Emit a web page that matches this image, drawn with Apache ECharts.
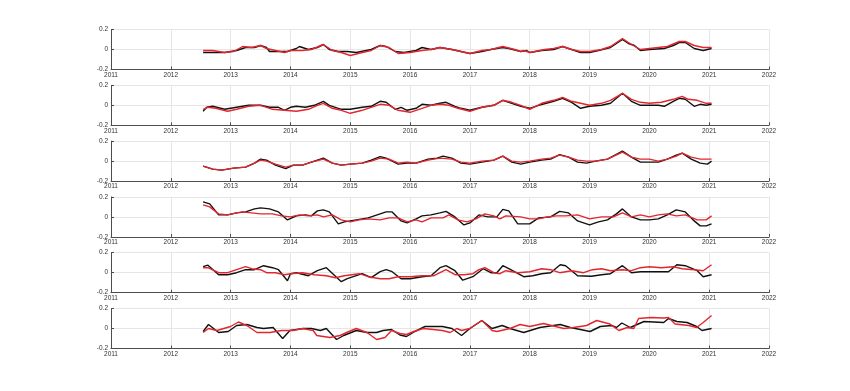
<!DOCTYPE html>
<html><head><meta charset="utf-8">
<script src="https://cdn.jsdelivr.net/npm/echarts@6/dist/echarts.min.js"></script>
<style>html,body{margin:0;padding:0;background:#fff;}#c{width:850px;height:391px;}</style>
</head><body><div id="c"></div>
<script>
const xTicks = [2011,2012,2013,2014,2015,2016,2017,2018,2019,2020,2021,2022];
const yTicks = [-0.2,0,0.2];

const p1Black = [[2012.54,-0.03],[2012.9,-0.03],[2013.1,-0.01],[2013.25,0.02],[2013.4,0.02],[2013.5,0.04],[2013.6,0.02],[2013.65,-0.02],[2013.8,-0.02],[2013.95,-0.02],[2014.1,0.01],[2014.15,0.03],[2014.3,0.0],[2014.45,0.02],[2014.55,0.05],[2014.65,0.0],[2014.8,-0.02],[2014.95,-0.02],[2015.1,-0.03],[2015.35,0.0],[2015.5,0.04],[2015.6,0.03],[2015.75,-0.02],[2015.9,-0.03],[2016.1,-0.01],[2016.2,0.02],[2016.35,0.0],[2016.5,0.02],[2016.7,0.0],[2016.85,-0.02],[2017.0,-0.04],[2017.2,-0.02],[2017.35,0.0],[2017.55,0.02],[2017.65,0.01],[2017.85,-0.02],[2017.95,-0.01],[2018.0,-0.03],[2018.2,-0.01],[2018.4,0.0],[2018.55,0.03],[2018.7,0.0],[2018.85,-0.03],[2019.0,-0.03],[2019.15,-0.01],[2019.35,0.02],[2019.55,0.10],[2019.65,0.06],[2019.75,0.04],[2019.85,-0.01],[2020.0,0.0],[2020.25,0.01],[2020.4,0.04],[2020.5,0.07],[2020.6,0.07],[2020.75,0.01],[2020.9,-0.01],[2021.04,0.01]];
const p1Red = [[2012.54,-0.01],[2012.7,-0.01],[2012.9,-0.03],[2013.05,-0.02],[2013.2,0.03],[2013.35,0.02],[2013.5,0.04],[2013.6,0.01],[2013.75,-0.01],[2013.9,-0.03],[2014.0,-0.01],[2014.2,-0.01],[2014.35,0.0],[2014.55,0.05],[2014.7,-0.01],[2014.85,-0.03],[2015.0,-0.06],[2015.2,-0.03],[2015.35,-0.01],[2015.5,0.04],[2015.65,0.02],[2015.8,-0.04],[2016.0,-0.03],[2016.2,-0.01],[2016.35,0.0],[2016.5,0.02],[2016.7,0.0],[2016.85,-0.02],[2017.0,-0.04],[2017.2,-0.01],[2017.35,0.0],[2017.55,0.03],[2017.75,0.0],[2017.85,-0.02],[2017.9,-0.01],[2018.0,-0.03],[2018.25,0.0],[2018.4,0.01],[2018.55,0.03],[2018.7,0.0],[2018.85,-0.02],[2019.0,-0.02],[2019.2,0.0],[2019.35,0.03],[2019.55,0.11],[2019.7,0.05],[2019.85,0.0],[2020.0,0.01],[2020.3,0.03],[2020.5,0.08],[2020.6,0.08],[2020.75,0.04],[2020.9,0.02],[2021.04,0.02]];

const p2Black = [[2012.54,-0.06],[2012.6,-0.02],[2012.7,-0.01],[2012.9,-0.04],[2013.1,-0.02],[2013.3,0.0],[2013.5,0.0],[2013.65,-0.02],[2013.8,-0.02],[2013.9,-0.05],[2014.0,-0.02],[2014.1,-0.01],[2014.25,-0.02],[2014.4,0.0],[2014.55,0.04],[2014.65,0.0],[2014.85,-0.04],[2015.0,-0.04],[2015.2,-0.02],[2015.35,-0.01],[2015.5,0.04],[2015.6,0.03],[2015.75,-0.04],[2015.85,-0.02],[2015.95,-0.05],[2016.1,-0.03],[2016.2,0.01],[2016.35,0.0],[2016.5,0.02],[2016.6,0.03],[2016.75,-0.01],[2016.85,-0.03],[2017.0,-0.05],[2017.2,-0.02],[2017.4,0.0],[2017.55,0.05],[2017.7,0.02],[2017.85,-0.01],[2018.0,-0.03],[2018.15,0.0],[2018.4,0.04],[2018.55,0.07],[2018.7,0.03],[2018.85,-0.03],[2019.0,-0.01],[2019.2,0.0],[2019.35,0.02],[2019.55,0.12],[2019.7,0.04],[2019.85,0.0],[2020.0,0.0],[2020.15,0.0],[2020.25,-0.01],[2020.4,0.04],[2020.5,0.07],[2020.6,0.06],[2020.75,-0.01],[2020.85,0.01],[2020.95,0.0],[2021.04,0.01]];
const p2Red = [[2012.54,-0.04],[2012.62,-0.02],[2012.75,-0.03],[2012.95,-0.06],[2013.1,-0.04],[2013.3,-0.01],[2013.5,0.0],[2013.7,-0.04],[2013.9,-0.05],[2014.1,-0.06],[2014.3,-0.04],[2014.45,0.0],[2014.55,0.02],[2014.7,-0.03],[2014.85,-0.05],[2015.0,-0.08],[2015.2,-0.05],[2015.35,-0.02],[2015.5,0.01],[2015.65,0.0],[2015.8,-0.05],[2016.0,-0.07],[2016.2,-0.03],[2016.35,0.0],[2016.5,0.01],[2016.65,0.0],[2016.8,-0.03],[2017.0,-0.06],[2017.2,-0.02],[2017.4,0.0],[2017.55,0.05],[2017.7,0.03],[2017.85,0.0],[2018.0,-0.04],[2018.2,0.02],[2018.4,0.05],[2018.55,0.08],[2018.7,0.04],[2018.85,0.02],[2019.0,0.0],[2019.2,0.02],[2019.35,0.05],[2019.55,0.12],[2019.7,0.06],[2019.85,0.03],[2020.0,0.02],[2020.2,0.03],[2020.4,0.06],[2020.55,0.09],[2020.65,0.06],[2020.8,0.05],[2020.95,0.02],[2021.04,0.02]];

const p3Black = [[2012.54,-0.05],[2012.7,-0.08],[2012.85,-0.09],[2013.05,-0.07],[2013.25,-0.06],[2013.4,-0.02],[2013.5,0.02],[2013.6,0.01],[2013.75,-0.04],[2013.92,-0.075],[2014.05,-0.04],[2014.2,-0.04],[2014.35,-0.01],[2014.55,0.03],[2014.7,-0.02],[2014.85,-0.04],[2015.0,-0.03],[2015.2,-0.02],[2015.35,0.01],[2015.5,0.045],[2015.6,0.03],[2015.8,-0.03],[2015.95,-0.02],[2016.1,-0.02],[2016.3,0.02],[2016.45,0.03],[2016.55,0.05],[2016.7,0.03],[2016.85,-0.02],[2017.0,-0.03],[2017.2,-0.01],[2017.4,0.01],[2017.55,0.05],[2017.7,-0.01],[2017.85,-0.03],[2018.0,-0.01],[2018.2,0.01],[2018.35,0.02],[2018.5,0.065],[2018.65,0.04],[2018.8,-0.01],[2018.95,-0.02],[2019.1,0.0],[2019.3,0.02],[2019.55,0.10],[2019.7,0.04],[2019.85,-0.01],[2020.0,-0.01],[2020.15,-0.01],[2020.3,0.02],[2020.45,0.06],[2020.55,0.08],[2020.7,0.02],[2020.85,-0.02],[2020.97,-0.03],[2021.04,0.0]];
const p3Red = [[2012.54,-0.05],[2012.7,-0.08],[2012.85,-0.09],[2013.05,-0.07],[2013.25,-0.06],[2013.4,-0.02],[2013.5,0.01],[2013.6,0.0],[2013.75,-0.03],[2013.92,-0.06],[2014.05,-0.04],[2014.2,-0.04],[2014.35,-0.01],[2014.55,0.02],[2014.7,-0.02],[2014.85,-0.04],[2015.0,-0.03],[2015.2,-0.02],[2015.35,0.0],[2015.5,0.03],[2015.65,0.02],[2015.8,-0.02],[2015.95,-0.01],[2016.1,-0.02],[2016.3,0.01],[2016.5,0.03],[2016.7,0.02],[2016.85,-0.01],[2017.0,-0.02],[2017.2,0.0],[2017.4,0.01],[2017.55,0.05],[2017.7,0.0],[2017.85,-0.01],[2018.0,0.0],[2018.2,0.02],[2018.35,0.03],[2018.5,0.06],[2018.65,0.04],[2018.8,0.01],[2018.95,0.0],[2019.1,0.0],[2019.3,0.02],[2019.55,0.09],[2019.7,0.04],[2019.85,0.02],[2020.0,0.02],[2020.15,0.0],[2020.3,0.02],[2020.45,0.05],[2020.55,0.08],[2020.7,0.04],[2020.85,0.02],[2021.0,0.02],[2021.04,0.02]];

const p4Black = [[2012.54,0.15],[2012.65,0.13],[2012.8,0.02],[2012.95,0.02],[2013.1,0.04],[2013.25,0.05],[2013.4,0.08],[2013.5,0.09],[2013.65,0.08],[2013.8,0.05],[2013.95,-0.03],[2014.1,0.01],[2014.25,0.02],[2014.35,0.01],[2014.45,0.06],[2014.55,0.07],[2014.65,0.05],[2014.8,-0.07],[2014.9,-0.05],[2015.1,-0.03],[2015.3,-0.01],[2015.45,0.02],[2015.6,0.05],[2015.7,0.05],[2015.85,-0.04],[2015.95,-0.06],[2016.1,-0.02],[2016.2,0.01],[2016.35,0.02],[2016.5,0.04],[2016.6,0.055],[2016.75,0.0],[2016.9,-0.08],[2017.0,-0.06],[2017.15,0.02],[2017.3,0.0],[2017.45,0.0],[2017.55,0.075],[2017.65,0.06],[2017.8,-0.07],[2018.0,-0.07],[2018.15,-0.01],[2018.35,0.0],[2018.5,0.055],[2018.65,0.04],[2018.8,-0.04],[2019.0,-0.08],[2019.15,-0.05],[2019.3,-0.03],[2019.45,0.03],[2019.55,0.08],[2019.7,0.0],[2019.85,-0.03],[2020.0,-0.03],[2020.15,-0.02],[2020.3,0.02],[2020.45,0.07],[2020.6,0.05],[2020.75,-0.04],[2020.85,-0.09],[2020.95,-0.09],[2021.04,-0.07]];
const p4Red = [[2012.54,0.12],[2012.65,0.10],[2012.8,0.03],[2012.95,0.02],[2013.1,0.04],[2013.2,0.05],[2013.35,0.04],[2013.5,0.03],[2013.7,0.03],[2013.85,0.01],[2014.0,0.0],[2014.15,0.02],[2014.3,0.01],[2014.45,0.02],[2014.55,0.0],[2014.7,0.02],[2014.85,-0.03],[2015.0,-0.05],[2015.15,-0.03],[2015.3,-0.02],[2015.5,-0.03],[2015.65,-0.01],[2015.8,-0.01],[2015.95,-0.05],[2016.1,-0.03],[2016.2,-0.05],[2016.35,-0.01],[2016.55,-0.01],[2016.65,0.02],[2016.8,-0.03],[2016.95,-0.05],[2017.1,-0.02],[2017.25,0.03],[2017.4,0.01],[2017.5,-0.02],[2017.6,0.01],[2017.85,0.0],[2018.0,-0.02],[2018.15,-0.02],[2018.3,0.0],[2018.45,0.01],[2018.6,0.01],[2018.8,0.02],[2019.0,-0.02],[2019.2,0.0],[2019.4,0.0],[2019.55,0.04],[2019.7,0.0],[2019.85,0.02],[2020.0,0.0],[2020.15,0.02],[2020.3,0.03],[2020.45,0.01],[2020.6,0.02],[2020.8,-0.03],[2020.95,-0.03],[2021.04,0.01]];

const p5Black = [[2012.54,0.06],[2012.62,0.075],[2012.8,-0.02],[2012.95,-0.02],[2013.1,0.0],[2013.25,0.03],[2013.4,0.03],[2013.55,0.07],[2013.7,0.05],[2013.8,0.03],[2013.95,-0.08],[2014.0,-0.01],[2014.1,0.0],[2014.3,-0.03],[2014.45,0.02],[2014.6,0.05],[2014.85,-0.09],[2014.95,-0.06],[2015.1,-0.03],[2015.2,-0.01],[2015.35,-0.05],[2015.5,0.01],[2015.6,0.03],[2015.7,0.01],[2015.85,-0.06],[2016.0,-0.06],[2016.2,-0.04],[2016.35,-0.03],[2016.5,0.05],[2016.6,0.07],[2016.75,0.02],[2016.88,-0.075],[2017.05,-0.04],[2017.22,0.04],[2017.35,0.0],[2017.45,0.0],[2017.55,0.07],[2017.65,0.04],[2017.9,-0.04],[2018.05,-0.03],[2018.2,-0.01],[2018.35,0.0],[2018.51,0.08],[2018.6,0.07],[2018.8,-0.03],[2019.03,-0.035],[2019.2,-0.02],[2019.35,-0.01],[2019.45,0.03],[2019.55,0.07],[2019.7,0.0],[2019.85,0.01],[2020.0,0.01],[2020.24,0.01],[2020.32,0.01],[2020.46,0.08],[2020.6,0.07],[2020.8,0.02],[2020.9,-0.04],[2021.04,-0.02]];
const p5Red = [[2012.54,0.05],[2012.62,0.05],[2012.8,0.0],[2012.95,0.0],[2013.1,0.03],[2013.25,0.06],[2013.35,0.04],[2013.5,0.03],[2013.6,0.0],[2013.75,0.0],[2013.9,-0.02],[2014.0,-0.01],[2014.2,0.0],[2014.4,-0.02],[2014.6,-0.03],[2014.75,-0.05],[2014.9,-0.03],[2015.15,-0.01],[2015.3,-0.04],[2015.5,-0.06],[2015.65,-0.06],[2015.8,-0.04],[2016.0,-0.04],[2016.2,-0.03],[2016.4,-0.03],[2016.5,0.0],[2016.6,0.03],[2016.75,-0.02],[2016.9,-0.02],[2017.05,-0.01],[2017.15,0.03],[2017.25,0.05],[2017.4,0.0],[2017.5,-0.01],[2017.6,0.02],[2017.8,0.0],[2018.0,0.01],[2018.2,0.04],[2018.35,0.03],[2018.5,0.0],[2018.7,0.02],[2018.9,0.0],[2019.05,0.03],[2019.2,0.04],[2019.35,0.02],[2019.55,0.03],[2019.7,0.02],[2019.85,0.05],[2020.0,0.06],[2020.2,0.05],[2020.4,0.06],[2020.55,0.04],[2020.75,0.03],[2020.9,0.02],[2021.04,0.08]];

const p6Black = [[2012.54,-0.03],[2012.63,0.04],[2012.8,-0.04],[2012.96,-0.03],[2013.1,0.03],[2013.27,0.04],[2013.44,0.01],[2013.55,0.0],[2013.71,0.01],[2013.87,-0.10],[2013.99,-0.02],[2014.22,0.0],[2014.35,0.0],[2014.5,-0.02],[2014.6,0.0],[2014.77,-0.11],[2014.89,-0.07],[2015.1,-0.02],[2015.28,-0.04],[2015.44,-0.04],[2015.55,-0.02],[2015.69,-0.01],[2015.83,-0.065],[2015.94,-0.08],[2016.08,-0.03],[2016.25,0.02],[2016.54,0.02],[2016.7,0.0],[2016.86,-0.07],[2017.0,0.0],[2017.2,0.08],[2017.37,0.0],[2017.54,0.03],[2017.67,0.0],[2017.9,-0.04],[2018.17,0.01],[2018.51,0.04],[2018.68,0.01],[2019.01,-0.03],[2019.18,0.02],[2019.37,0.03],[2019.45,0.01],[2019.54,0.055],[2019.68,0.01],[2019.91,0.07],[2020.24,0.06],[2020.32,0.10],[2020.46,0.07],[2020.63,0.06],[2020.79,0.02],[2020.88,-0.02],[2021.04,0.0]];
const p6Red = [[2012.54,-0.04],[2012.63,0.0],[2012.77,-0.02],[2013.0,0.02],[2013.13,0.065],[2013.27,0.03],[2013.44,-0.04],[2013.66,-0.04],[2013.85,-0.02],[2014.04,-0.02],[2014.2,0.0],[2014.38,-0.02],[2014.44,-0.07],[2014.66,-0.09],[2014.83,-0.07],[2014.94,-0.04],[2015.1,0.0],[2015.28,-0.04],[2015.44,-0.11],[2015.58,-0.09],[2015.69,-0.02],[2015.83,-0.05],[2015.94,-0.06],[2016.06,-0.03],[2016.22,0.0],[2016.39,-0.01],[2016.54,-0.02],[2016.67,-0.04],[2016.78,0.0],[2016.86,-0.02],[2017.0,0.0],[2017.2,0.08],[2017.37,-0.02],[2017.45,-0.03],[2017.67,0.0],[2017.84,0.04],[2018.0,0.02],[2018.23,0.05],[2018.57,0.0],[2018.73,0.01],[2018.95,0.03],[2019.12,0.08],[2019.34,0.045],[2019.49,-0.02],[2019.63,0.01],[2019.74,0.0],[2019.82,0.10],[2020.02,0.11],[2020.24,0.105],[2020.32,0.11],[2020.43,0.045],[2020.66,0.03],[2020.79,0.01],[2020.9,0.06],[2021.04,0.13]];

const panels = [[p1Black,p1Red],[p2Black,p2Red],[p3Black,p3Red],[p4Black,p4Red],[p5Black,p5Red],[p6Black,p6Red]];

const chart = echarts.init(document.getElementById('c'), null, {renderer:'canvas'});
const grids = [], xAxes = [], yAxes = [], series = [];
const font = 'Liberation Sans';
panels.forEach((pair, i) => {
  grids.push({left:111, width:658, top:29.5 + 55.8*i, height:40});
  xAxes.push({
    type:'value', gridIndex:i, min:xTicks[0], max:xTicks[xTicks.length-1], interval:1,
    axisLine:{show:true, onZero:false, lineStyle:{color:'#4d4d4d', width:1}},
    axisTick:{show:true, inside:true, length:3, lineStyle:{color:'#4d4d4d'}},
    axisLabel:{show:true, fontSize:6.5, color:'#333', fontFamily:font, margin:2, formatter:v=>String(Math.round(v))},
    splitLine:{show:true, lineStyle:{color:'#e6e6e6', width:1}}
  });
  yAxes.push({
    type:'value', gridIndex:i, min:yTicks[0], max:yTicks[yTicks.length-1], interval:0.2,
    axisLine:{show:true, onZero:false, lineStyle:{color:'#4d4d4d', width:1}},
    axisTick:{show:true, inside:true, length:3, lineStyle:{color:'#4d4d4d'}},
    axisLabel:{show:true, fontSize:6.5, color:'#333', fontFamily:font, margin:3, formatter:v=>Math.abs(v)<1e-9?'0':v.toFixed(1)},
    splitLine:{show:true, lineStyle:{color:'#e6e6e6', width:1}}
  });
  series.push({type:'line', xAxisIndex:i, yAxisIndex:i, data:pair[0], showSymbol:false, symbol:'none', lineStyle:{color:'#111', width:1.4}, z:3, animation:false});
  series.push({type:'line', xAxisIndex:i, yAxisIndex:i, data:pair[1], showSymbol:false, symbol:'none', lineStyle:{color:'#e3262e', width:1.4}, z:4, animation:false});
});
chart.setOption({backgroundColor:'#fff', animation:false, grid:grids, xAxis:xAxes, yAxis:yAxes, series:series});
</script></body></html>
